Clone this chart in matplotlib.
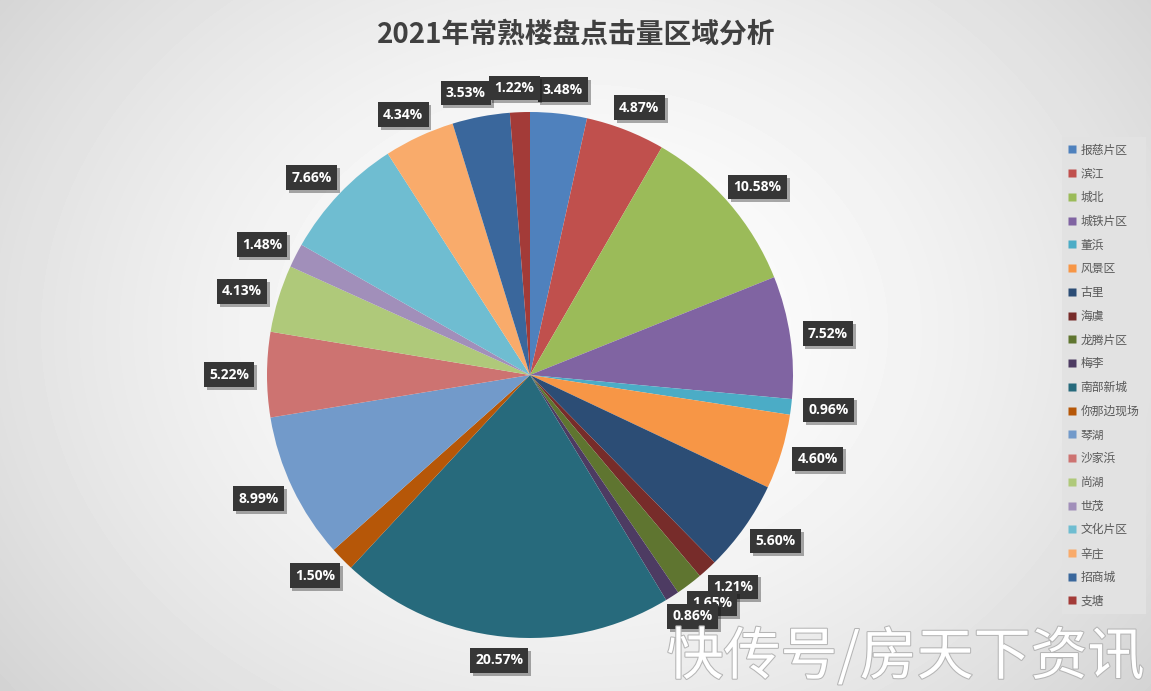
import numpy as np
import matplotlib
matplotlib.use('Agg')
import matplotlib.pyplot as plt
from matplotlib.lines import Line2D
import matplotlib.patheffects as pe

plt.rcParams['font.family'] = ['Noto Sans CJK SC', 'DejaVu Sans']

# data
districts = ['报慈片区', '滨江', '城北', '城铁片区', '董浜', '风景区', '古里', '海虞', '龙腾片区', '梅李',
             '南部新城', '你那边现场', '琴湖', '沙家浜', '尚湖', '世茂', '文化片区', '辛庄', '招商城', '支塘']
shares = [3.48, 4.87, 10.58, 7.52, 0.96, 4.60, 5.60, 1.21, 1.65, 0.86,
          20.57, 1.50, 8.99, 5.22, 4.13, 1.48, 7.66, 4.34, 3.53, 1.22]
colors = ['#4F81BD', '#C0504D', '#9BBB59', '#8064A2', '#4BACC6', '#F79646', '#2C4D75', '#772C2A',
          '#5F7530', '#4D3B62', '#276A7C', '#B65708', '#729ACA', '#CD7371', '#AFC97A', '#A18FBA',
          '#6FBDD1', '#F9AB6B', '#3A679C', '#A33B38']

W, H = 1151, 691
fig = plt.figure(figsize=(W / 100, H / 100), dpi=100)

# radial grey background
bg = fig.add_axes([0, 0, 1, 1])
yy, xx = np.mgrid[0:H, 0:W]
d = np.sqrt(((xx - 580) / 700.0) ** 2 + ((yy - 330) / 560.0) ** 2)
shade = np.clip(1.0 - 0.16 * d ** 1.6, 0, 1)
bg.imshow(shade, cmap='gray', vmin=0, vmax=1, extent=[0, W, H, 0], aspect='auto')
bg.axis('off')

# pie axes: center (530,375) px, radius 263 px
cx, cy, half = 530, 375, 300
ax = fig.add_axes([(cx - half) / W, (H - cy - half) / H, 2 * half / W, 2 * half / H])
R = 263
wedges, _ = ax.pie(shares, colors=colors, startangle=90, counterclock=False, radius=R,
                   wedgeprops=dict(linewidth=0))
ax.set_xlim(-half, half)
ax.set_ylim(-half, half)
ax.set_aspect('equal')
ax.axis('off')

# data labels outside the edge, box corner near the circle
bw, bh, gap = 52, 24, 12
nudge = {18: -8, 19: -4}  # excel pushes the crowded top labels apart
cum = np.cumsum([0] + shares[:-1])
for i, (s, c0) in enumerate(zip(shares, cum)):
    ang = np.deg2rad(90 - (c0 + s / 2) / sum(shares) * 360)
    x = (R + gap) * np.cos(ang) + bw / 2 * np.cos(ang) + nudge.get(i, 0)
    y = (R + gap) * np.sin(ang) + bh / 2 * np.sin(ang)
    t = ax.text(x, y, '%.2f%%' % s, ha='center', va='center',
                fontsize=10, fontweight='bold', color='white', family='Open Sans', zorder=5 + i,
                bbox=dict(boxstyle='square,pad=0.38', fc='#363636', ec='none'))
    t.get_bbox_patch().set_path_effects([pe.SimplePatchShadow(offset=(2, -2), alpha=0.35), pe.Normal()])

fig.text(576 / W, 1 - 35 / H, '2021年常熟楼盘点击量区域分析', ha='center', va='center',
         fontsize=20, fontweight='bold', color='#404040')

handles = [Line2D([], [], marker='s', ls='none', markersize=5.5, markerfacecolor=c, markeredgecolor='none')
           for c in colors]
leg = fig.legend(handles, districts, loc='upper left', bbox_to_anchor=(1062 / W, 1 - 137 / H),
                 frameon=True, fontsize=8.5, labelspacing=0.91, handlelength=0.6, handletextpad=0.4,
                 borderpad=0.55, borderaxespad=0, labelcolor='#595959')
leg.get_frame().set_facecolor('#e2e2e2')
leg.get_frame().set_edgecolor('none')
leg.get_frame().set_alpha(1)
leg.get_frame().set_boxstyle('square', pad=0)

fig.text(1145 / W, 1 - 658 / H, '快传号/房天下资讯', ha='right', va='center', fontsize=41,
         color='white', path_effects=[pe.withStroke(linewidth=1.5, foreground='#b5b5b5')])

fig.savefig('out.png', dpi=100)
